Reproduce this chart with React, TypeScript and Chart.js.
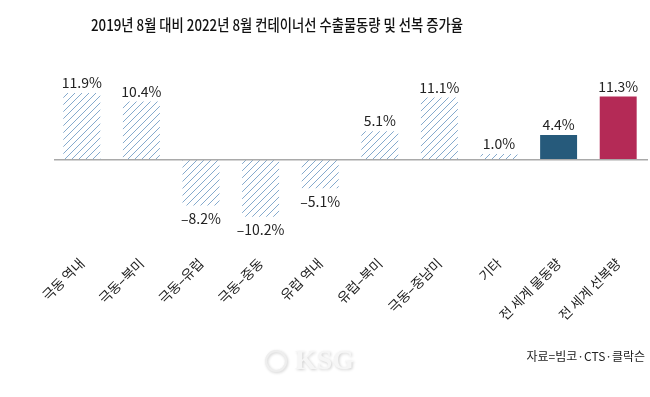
import React, { useEffect, useRef } from "react";
import { Chart, registerables } from "chart.js";

Chart.register(...registerables);

const TITLE = "2019년 8월 대비 2022년 8월 컨테이너선 수출물동량 및 선복 증가율";
const SOURCE = "자료=빔코·CTS·클락슨";
const categories = [
  "극동 역내",
  "극동–북미",
  "극동–유럽",
  "극동–중동",
  "유럽 역내",
  "유럽–북미",
  "극동–중남미",
  "기타",
  "전 세계 물동량",
  "전 세계 선복량",
];
const values = [11.9, 10.4, -8.2, -10.2, -5.1, 5.1, 11.1, 1.0, 4.4, 11.3];
const barKinds = ["hatch", "hatch", "hatch", "hatch", "hatch", "hatch", "hatch", "hatch", "navy", "crimson"];

const FONT = "'Noto Sans CJK KR', 'Noto Sans', sans-serif";

function makeHatch(color: string) {
  const s = 7;
  const c = document.createElement("canvas");
  c.width = s;
  c.height = s;
  const g = c.getContext("2d")!;
  g.fillStyle = "#ffffff";
  g.fillRect(0, 0, s, s);
  g.strokeStyle = color;
  g.lineWidth = 1;
  g.beginPath();
  g.moveTo(0, s);
  g.lineTo(s, 0);
  g.moveTo(-1, 1);
  g.lineTo(1, -1);
  g.moveTo(s - 1, s + 1);
  g.lineTo(s + 1, s - 1);
  g.stroke();
  return g.createPattern(c, "repeat")!;
}

const fmt = (v: number) => (v < 0 ? "–" : "") + Math.abs(v).toFixed(1) + "%";

export default function App() {
  const ref = useRef<HTMLCanvasElement>(null);
  useEffect(() => {
    const hatch = makeHatch("#85aacd");
    const colorFor = (k: string) => (k === "navy" ? "#265a7b" : k === "crimson" ? "#b42a56" : hatch);

    const extras = {
      id: "extras",
      afterDatasetsDraw(chart: any) {
        const { ctx, chartArea, scales } = chart;
        const y0 = scales.y.getPixelForValue(0);
        ctx.save();
        ctx.strokeStyle = "#a9a9a9";
        ctx.lineWidth = 1.5;
        ctx.beginPath();
        ctx.moveTo(chartArea.left + 2, y0);
        ctx.lineTo(chartArea.right, y0);
        ctx.stroke();

        const meta = chart.getDatasetMeta(0);
        ctx.fillStyle = "#222";
        ctx.font = `14px ${FONT}`;
        ctx.textAlign = "center";
        meta.data.forEach((el: any, i: number) => {
          const v = values[i];
          if (v >= 0) {
            ctx.textBaseline = "bottom";
            ctx.fillText(fmt(v), el.x, el.y - 3);
          } else {
            ctx.textBaseline = "top";
            ctx.fillText(fmt(v), el.x, el.y + 6);
          }
        });

        // title (slightly condensed to match the reference width)
        ctx.fillStyle = "#111";
        ctx.font = `500 15.5px ${FONT}`;
        ctx.textAlign = "center";
        ctx.textBaseline = "middle";
        const w = ctx.measureText(TITLE).width;
        const sx = Math.min(1, 372 / w);
        ctx.save();
        ctx.translate(277, 25);
        ctx.scale(sx, 1);
        ctx.fillText(TITLE, 0, 0);
        ctx.restore();

        // source
        ctx.fillStyle = "#222";
        ctx.font = `12px ${FONT}`;
        ctx.textAlign = "right";
        ctx.fillText(SOURCE, 645, 356);

        // watermark
        ctx.font = "bold 28px 'Liberation Serif', serif";
        ctx.textAlign = "left";
        ctx.shadowColor = "rgba(0,0,0,0.2)";
        ctx.shadowBlur = 3;
        ctx.shadowOffsetX = 1;
        ctx.shadowOffsetY = 1;
        ctx.fillStyle = "#f6f6f6";
        ctx.fillText("KSG", 295, 362);
        ctx.beginPath();
        ctx.arc(276, 361, 10, 0, Math.PI * 2);
        ctx.strokeStyle = "#eeeeee";
        ctx.lineWidth = 2;
        ctx.stroke();
        ctx.restore();
      },
    };

    const chart = new Chart(ref.current!, {
      type: "bar",
      data: {
        labels: categories,
        datasets: [
          {
            data: values,
            backgroundColor: barKinds.map(colorFor) as any,
            borderWidth: 0,
            barPercentage: 0.62,
            categoryPercentage: 1,
          },
        ],
      },
      options: {
        responsive: false,
        animation: false,
        layout: { padding: { top: 59, left: 52, right: 2, bottom: 0 } },
        plugins: { legend: { display: false }, tooltip: { enabled: false }, title: { display: false } },
        scales: {
          y: { display: false, min: -14, max: 18 },
          x: {
            grid: { display: false, drawTicks: false },
            border: { display: false },
            ticks: {
              minRotation: 45,
              maxRotation: 45,
              padding: 17,
              color: "#222",
              font: { family: FONT, size: 13.5 },
            },
            afterFit: (scale: any) => {
              scale.height = 397 - 238;
            },
          },
        },
      },
      plugins: [extras],
    });
    return () => chart.destroy();
  }, []);
  return (
    <div style={{ position: "fixed", left: 0, top: 0, width: 650, height: 397, background: "#fff" }}>
      <canvas ref={ref} width={650} height={397} style={{ display: "block" }} />
    </div>
  );
}
